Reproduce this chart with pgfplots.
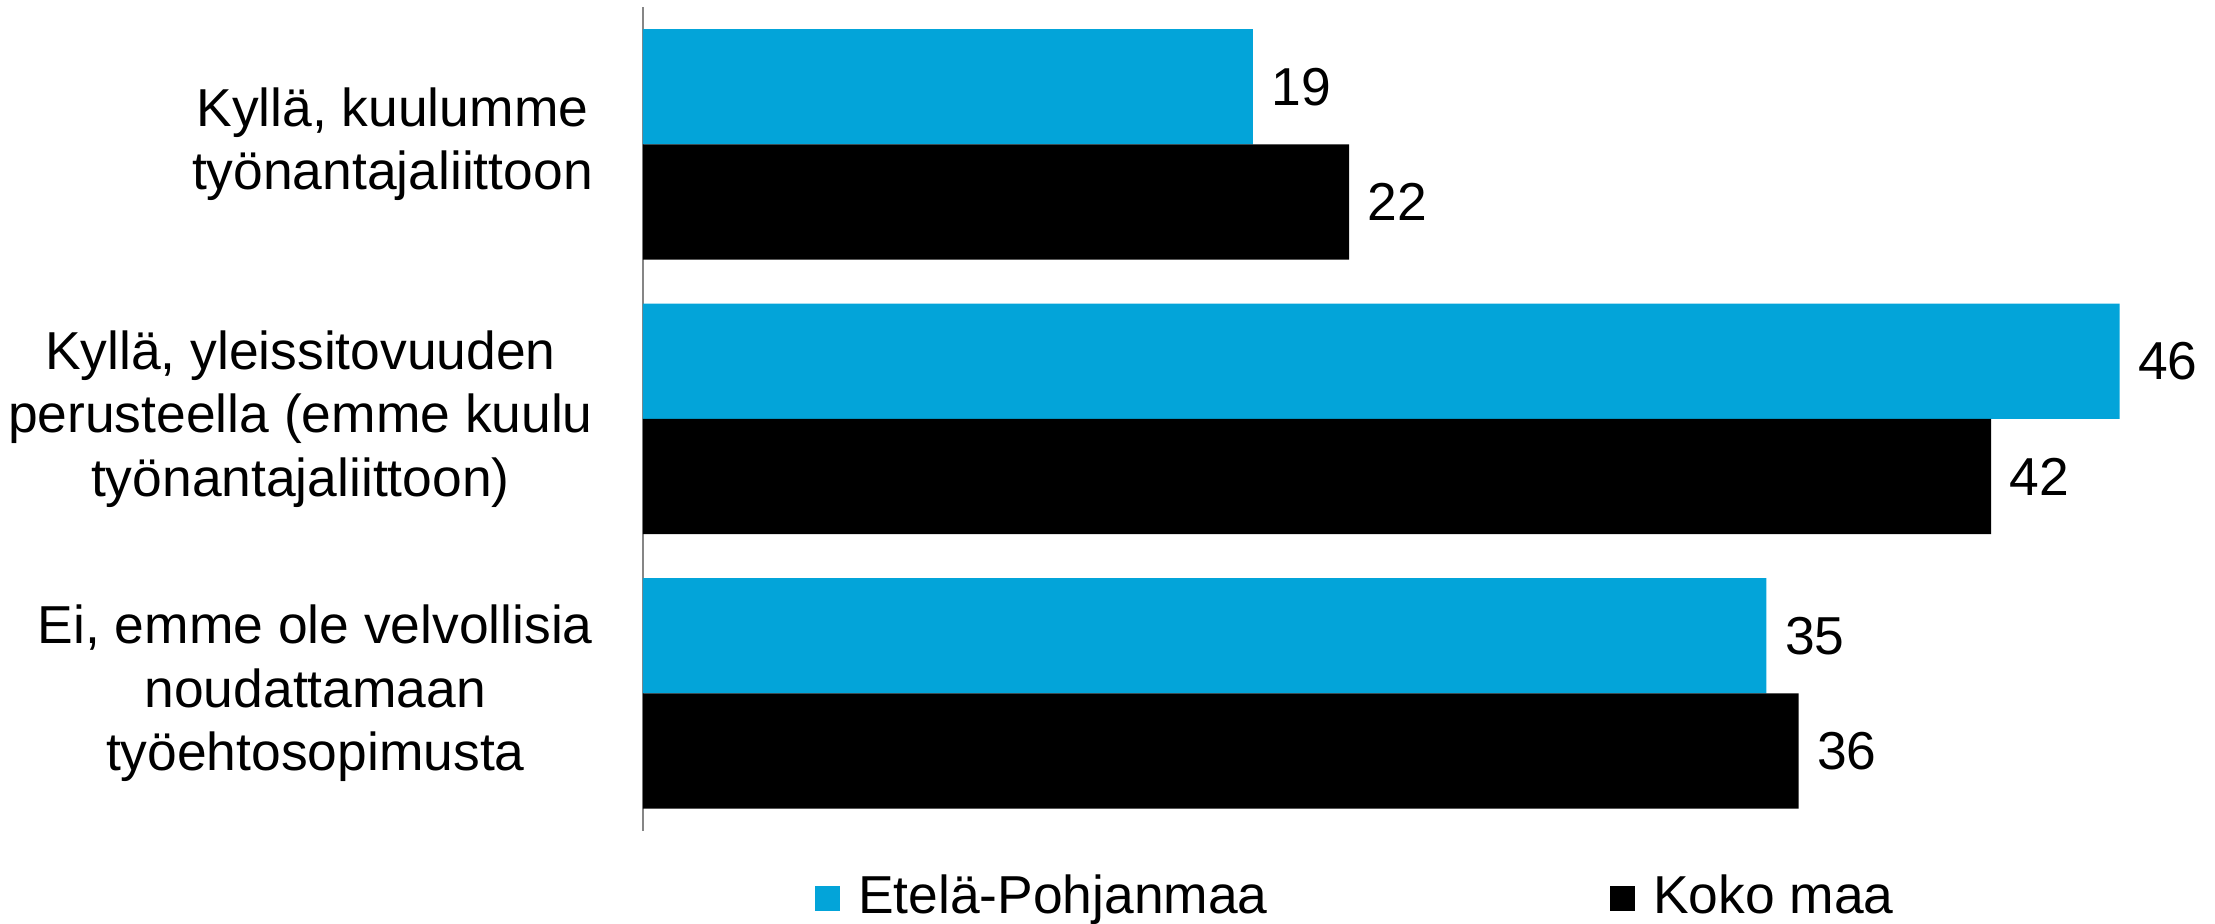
\documentclass[border=0pt]{standalone}
\usepackage{pgfplots}
\pgfplotsset{compat=1.18}
\usepackage{fontspec}
\setmainfont{Liberation Sans}
\definecolor{epblue}{RGB}{3,164,217}
\definecolor{axisgray}{RGB}{134,134,134}

\begin{document}
\fontsize{17.8}{21.2}\selectfont
\begin{tikzpicture}
\begin{axis}[
  at={(0,0)}, anchor=south west,
  scale only axis,
  width=513.6pt, height=274.5pt,
  xbar, bar shift=0pt, bar width=0.42,
  xmin=0, xmax=48,
  ymin=-0.5, ymax=2.5, y dir=reverse,
  axis x line=none,
  axis y line*=left,
  y axis line style={axisgray, line width=0.8pt},
  ytick={0,1,2},
  yticklabels={{Kyllä, kuulumme\\työnantajaliittoon},
               {Kyllä, yleissitovuuden\\perusteella (emme kuulu\\työnantajaliittoon)},
               {Ei, emme ole velvollisia\\noudattamaan\\työehtosopimusta}},
  major tick length=0pt,
  yticklabel style={align=center, inner sep=0pt, xshift=-16.5pt},
  /pgf/number format/assume math mode=true,
  nodes near coords,
  nodes near coords style={anchor=west, inner sep=0pt, xshift=6pt, black},
  clip=false,
  legend columns=2,
  legend style={draw=none, fill=none, inner sep=0pt,
    at={(axis description cs:0,0)}, anchor=west, xshift=57pt, yshift=-22.6pt,
    nodes={inner sep=2pt, anchor=west},
    /tikz/every odd column/.append style={column sep=4pt},
    /tikz/every even column/.append style={column sep=112pt}},
  legend image code/.code={\fill[#1] (0pt,-4.25pt) rectangle (8.5pt,4.25pt);},
]
\addplot[fill=epblue, draw=none] coordinates {(19,-0.21) (46,0.79) (35,1.79)};
\addplot[fill=black, draw=none] coordinates {(22,0.21) (42,1.21) (36,2.21)};
\legend{Etelä-Pohjanmaa, Koko maa}
\end{axis}
\pgfresetboundingbox
\path[use as bounding box] (-214.3pt,-31.1pt) rectangle (524pt,276.85pt);
\end{tikzpicture}
\end{document}
